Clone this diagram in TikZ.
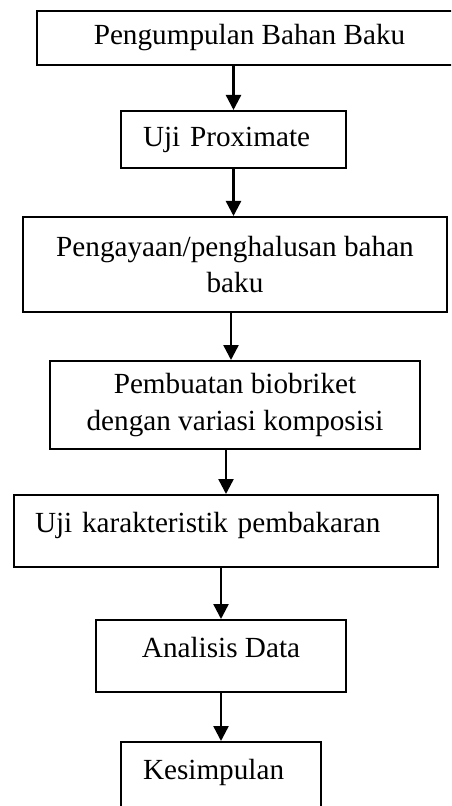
\documentclass[tikz,border=0pt]{standalone}
\usepackage{fontspec}
\setmainfont{Liberation Serif}
\usetikzlibrary{arrows.meta,positioning,calc}

\begin{document}
\begin{tikzpicture}[x=0.5pt,y=-0.5pt,
  font=\fontsize{14.6}{18.2}\selectfont,
  box/.style={draw,line width=1pt,inner sep=0pt,align=center},
  lbox/.style={box,align=left,inner xsep=11pt},
  low/.style={text height=10pt,text depth=8.8pt},
  arr/.style={line width=1.2pt,-{Triangle[length=7.5pt,width=7.5pt]}}]
  \clip (0,0) rectangle (451,806);
  % The steps, top to bottom.
  \node[box,minimum width=212.5pt,minimum height=27pt] (kumpul) at (249.5,38)
    {Pengumpulan Bahan Baku};
  \node[lbox,text width=90.5pt,minimum height=28.5pt] (proxi) at (233.5,139.5)
    {Uji Proximate};
  \node[box,minimum width=212pt,minimum height=47.5pt] (halus) at (235,264.5)
    {Pengayaan/penghalusan bahan\\baku};
  \node[box,minimum width=185pt,minimum height=44pt] (buat) at (235,405)
    {Pembuatan biobriket\\dengan variasi komposisi};
  \node[lbox,low,inner xsep=10.5pt,text width=191pt,minimum height=36pt] (bakar) at (226,531)
    {Uji karakteristik pembakaran};
  \node[box,low,minimum width=125pt,minimum height=36pt] (data) at (221,656)
    {Analisis Data};
  \node[lbox,low,text width=78pt,minimum height=36pt] (simpul) at (221,778)
    {Kesimpulan};
  % Arrows between them.
  \draw[arr] (kumpul.south -| proxi.north) -- (proxi.north);
  \draw[arr] (proxi.south) -- (proxi.south |- halus.north);
  \draw[arr] ([xshift=-2pt]halus.south) -- ([xshift=-2pt]buat.north);
  \draw[arr] (buat.south -| bakar.north) -- (bakar.north);
  \draw[arr] (bakar.south -| data.north) -- (data.north);
  \draw[arr] (data.south) -- (simpul.north);
\end{tikzpicture}
\end{document}
